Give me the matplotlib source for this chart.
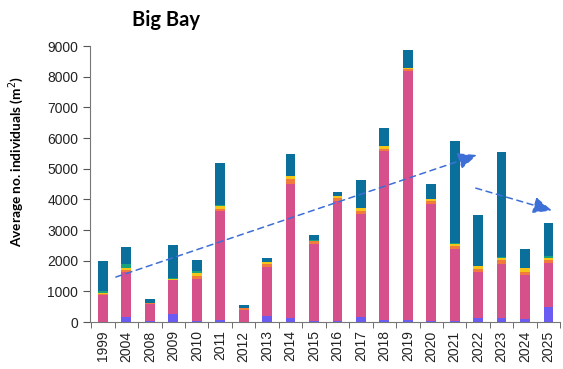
import numpy as np
import matplotlib
matplotlib.use("Agg")
import matplotlib.pyplot as plt

years = ["1999", "2004", "2008", "2009", "2010", "2011", "2012", "2013", "2014", "2015",
         "2016", "2017", "2018", "2019", "2020", "2021", "2022", "2023", "2024", "2025"]
purple = [20, 170, 50, 250, 50, 80, 20, 200, 150, 30, 30, 170, 80, 60, 30, 30, 140, 140, 100, 500]
pink = [860, 1480, 550, 1120, 1350, 3540, 370, 1600, 4370, 2530, 3920, 3350, 5490, 8130, 3820,
        2370, 1500, 1770, 1450, 1430]
orange = [40, 60, 10, 20, 110, 80, 60, 90, 140, 80, 100, 100, 90, 60, 90, 80, 100, 100, 90, 90]
yellow = [40, 60, 5, 20, 80, 100, 10, 70, 100, 20, 60, 100, 70, 40, 80, 80, 80, 90, 120, 80]
green = [50, 110, 5, 40, 70, 30, 10, 10, 20, 10, 10, 10, 10, 10, 10, 10, 10, 30, 10, 50]
teal = [970, 575, 120, 1080, 360, 1350, 85, 130, 700, 170, 130, 920, 580, 570, 490, 3340,
        1660, 3420, 630, 1090]

series = [purple, pink, orange, yellow, green, teal]
colors = ["#6a5cf2", "#d6508b", "#f07b3c", "#f5c51a", "#1aa37a", "#0b6f9c"]

# trend arrows (x as bar index, y in data units)
arrows = [((0.55, 1470), (15.95, 5450)), ((15.9, 4370), (19.15, 3640))]

fig = plt.figure(figsize=(5.63, 3.69), dpi=100)
ax = fig.add_axes([0.160, 0.127, 0.835, 0.748])

x = np.arange(len(years))
bottom = np.zeros(len(years))
for vals, c in zip(series, colors):
    ax.bar(x, vals, 0.42, bottom=bottom, color=c, edgecolor="none", zorder=2)
    bottom += np.array(vals)

for (x0, y0), (x1, y1) in arrows:
    ax.annotate("", xy=(x1, y1), xytext=(x0, y0),
                arrowprops=dict(arrowstyle="-|>,head_length=1.15,head_width=0.5",
                                linestyle=(0, (4, 3)), color="#3d6fd6", lw=1.1,
                                shrinkA=0, shrinkB=0), zorder=3)

ax.set_xlim(-0.55, 19.4)
ax.set_ylim(0, 9000)
ax.set_yticks(range(0, 9001, 1000))
ax.set_xticks(x)
ax.set_xticklabels(years, rotation=90, fontsize=10, family="Liberation Sans", color="#222222")
ax.tick_params(axis="x", length=0, pad=6)
ax.set_xticks(np.arange(-0.5, 19.6, 1), minor=True)
ax.tick_params(axis="x", which="minor", length=4, color="#555555", direction="out")
ax.tick_params(axis="y", length=5, color="#555555", labelsize=10, colors="#222222")
for lab in ax.get_yticklabels():
    lab.set_family("Liberation Sans")
for s in ["top", "right"]:
    ax.spines[s].set_visible(False)
for s in ["left", "bottom"]:
    ax.spines[s].set_color("#777777")

ax.set_ylabel("Average no. individuals (m$^2$)", fontsize=9.8, fontweight="bold",
              family="Lato")
ax.yaxis.set_label_coords(-0.137, 0.58)
fig.text(0.295, 0.945, "Big Bay", fontsize=14.5, fontweight="bold", family="Lato",
         ha="center", va="center")

fig.savefig("out.png", dpi=100)
